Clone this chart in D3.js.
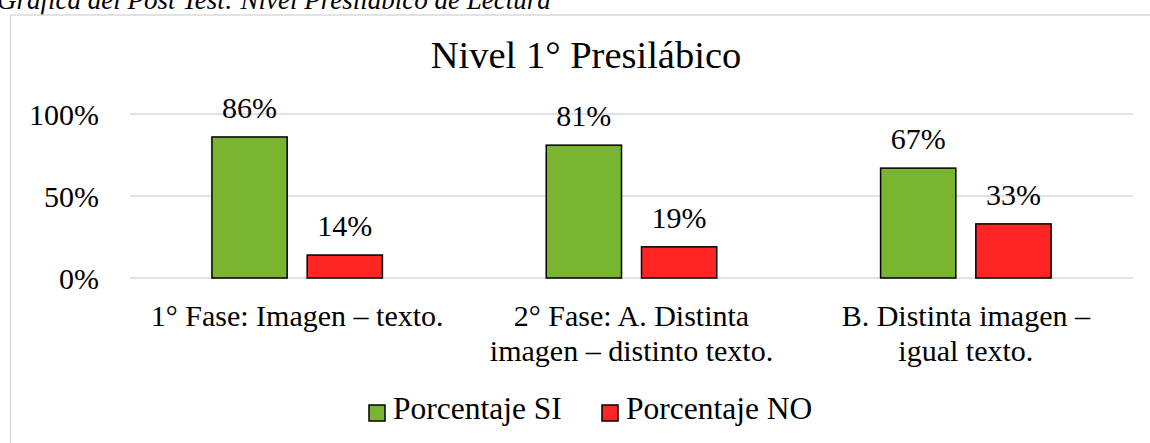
<!DOCTYPE html>
<html lang="es">
<head>
    <meta charset="utf-8">
    <title>Nivel 1° Presilábico</title>
    <style>
        html, body {
            margin: 0;
            padding: 0;
            background: #ffffff;
            overflow: hidden;
        }

        svg text {
            font-family: "Liberation Serif", "Times New Roman", serif;
            fill: #000000;
        }

        .grid line {
            stroke: #d9d9d9;
            stroke-width: 1.5;
        }

        .bar {
            stroke: #000000;
            stroke-width: 1.5;
        }
    </style>
    <script src="https://cdn.jsdelivr.net/npm/d3@7"></script>
</head>
<body>
    <div id="chart"></div>

    <script type="text/javascript">
      // datos
      var categorias = [
        ["1° Fase: Imagen – texto."],
        ["2° Fase: A. Distinta", "imagen – distinto texto."],
        ["B. Distinta imagen –", "igual texto."]
      ]
      var series = ["Porcentaje SI", "Porcentaje NO"]
      var valoresSI = [0.86, 0.81, 0.67]
      var valoresNO = [0.14, 0.19, 0.33]
      var ticks = [0, 0.5, 1]
      var colores = ["#7AB532", "#FF2525"]

      var width = 1150, height = 443

      var svg = d3.select("#chart")
        .append("svg")
        .attr("width", width)
        .attr("height", height)

      // texto del documento, cortado arriba como en la captura
      svg.append("text")
        .attr("x", -3)
        .attr("y", 9)
        .style("font-style", "italic")
        .style("font-size", "27px")
        .text("Gráfica del Post Test: Nivel Presilábico de Lectura")

      // borde del área del gráfico
      svg.append("rect")
        .attr("x", 10.5)
        .attr("y", 15)
        .attr("width", 1160)
        .attr("height", 460)
        .attr("fill", "none")
        .attr("stroke", "#d9d9d9")
        .attr("stroke-width", 1.5)

      svg.append("text")
        .attr("x", 586)
        .attr("y", 68)
        .attr("text-anchor", "middle")
        .style("font-size", "38.5px")
        .text("Nivel 1° Presilábico")

      var y = d3.scaleLinear().domain([0, 1]).range([278, 114])

      var x0 = d3.scaleBand()
        .domain(d3.range(categorias.length))
        .range([130, 1133])

      var x1 = d3.scaleBand()
        .domain(series)
        .range([0, x0.bandwidth()])
        .paddingInner(0.21)
        .paddingOuter(0.86)

      // líneas de cuadrícula
      svg.append("g")
        .attr("class", "grid")
        .selectAll("line")
        .data(ticks)
        .join("line")
        .attr("x1", 130)
        .attr("x2", 1133)
        .attr("y1", d => y(d))
        .attr("y2", d => y(d))

      // etiquetas del eje Y
      svg.append("g")
        .selectAll("text")
        .data(ticks)
        .join("text")
        .attr("x", 99)
        .attr("y", d => y(d))
        .attr("dy", "0.35em")
        .attr("text-anchor", "end")
        .style("font-size", "30px")
        .text(d3.format(".0%"))

      var datos = categorias.map(function(c, i){
        return [
          {cat: i, serie: series[0], v: valoresSI[i]},
          {cat: i, serie: series[1], v: valoresNO[i]}
        ]
      })

      var grupos = svg.append("g")
        .selectAll("g")
        .data(datos)
        .join("g")
        .attr("transform", (d, i) => "translate(" + x0(i) + ",0)")

      grupos.selectAll("rect")
        .data(d => d)
        .join("rect")
        .attr("class", "bar")
        .attr("x", d => x1(d.serie))
        .attr("y", d => y(d.v))
        .attr("width", x1.bandwidth())
        .attr("height", d => y(0) - y(d.v))
        .attr("fill", (d, i) => colores[i])

      grupos.selectAll("text")
        .data(d => d)
        .join("text")
        .attr("x", d => x1(d.serie) + x1.bandwidth() / 2)
        .attr("y", d => y(d.v) - 19)
        .attr("text-anchor", "middle")
        .style("font-size", "30px")
        .text(d => d3.format(".0%")(d.v))

      // etiquetas de categoría
      var etiquetas = svg.append("g")
        .selectAll("text")
        .data(categorias)
        .join("text")
        .attr("x", (d, i) => x0(i) + x0.bandwidth() / 2)
        .attr("y", 326)
        .attr("text-anchor", "middle")
        .style("font-size", "30px")

      etiquetas.selectAll("tspan")
        .data(d => d)
        .join("tspan")
        .attr("x", function(){ return d3.select(this.parentNode).attr("x") })
        .attr("dy", (d, i) => i == 0 ? 0 : 35)
        .text(d => d)

      // leyenda
      var leyendaX = [369, 602]
      var leyenda = svg.append("g")
        .selectAll("g")
        .data(series)
        .join("g")
        .attr("transform", (d, i) => "translate(" + leyendaX[i] + ",405)")

      leyenda.append("rect")
        .attr("class", "bar")
        .attr("width", 16)
        .attr("height", 16)
        .attr("fill", (d, i) => colores[i])

      leyenda.append("text")
        .attr("x", 24)
        .attr("y", 14)
        .style("font-size", "31.5px")
        .text(d => d)
    </script>
</body>
</html>
